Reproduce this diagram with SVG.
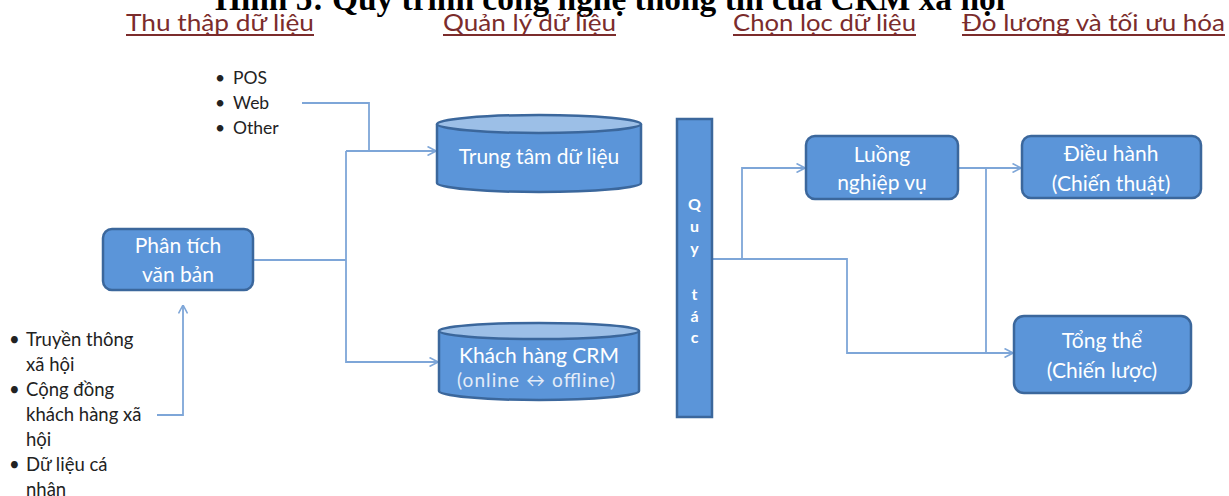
<svg xmlns="http://www.w3.org/2000/svg" width="1229" height="496" viewBox="0 0 1229 496">
  <defs>
    <marker id="arrow" viewBox="0 0 10 10" refX="9.5" refY="5" markerWidth="10" markerHeight="10" markerUnits="userSpaceOnUse" orient="auto">
      <path d="M1,0.5 L9.5,5 L1,9.5" fill="none" stroke="#7ea6d8" stroke-width="1.6"/>
    </marker>
    <style>
      .title { font-family: "Liberation Serif", "Times New Roman", serif; font-weight: bold; font-size: 33px; fill: #000; }
      .head { font-family: Lato, "Liberation Sans", sans-serif; font-size: 24px; fill: #7b2c2c; }
      .uline { stroke: #7b2c2c; stroke-width: 2.2; }
      .list { font-family: Lato, "Liberation Sans", sans-serif; font-size: 17.5px; fill: #222; }
      .list2 { font-family: Lato, "Liberation Sans", sans-serif; font-size: 18.5px; fill: #222; }
      .box { fill: #5b95d9; stroke: #3b679c; stroke-width: 2.5; }
      .cap { fill: #9cbfe7; stroke: #3b679c; stroke-width: 2.5; }
      .label { font-family: Lato, "Liberation Sans", sans-serif; font-size: 21px; fill: #fff; text-anchor: middle; }
      .sub { font-family: Lato, "Liberation Sans", sans-serif; font-size: 19px; fill: #e3ecf8; text-anchor: middle; }
      .rule { font-family: Lato, "Liberation Sans", sans-serif; font-size: 16px; font-weight: bold; fill: #fff; text-anchor: middle; }
      .wire { fill: none; stroke: #7ea6d8; stroke-width: 1.8; }
    </style>
  </defs>

  <rect width="1229" height="496" fill="#fff"/>

  <!-- figure caption, partly above the top edge -->
  <text class="title" x="610" y="10" text-anchor="middle" textLength="790" lengthAdjust="spacingAndGlyphs">Hình 5: Quy trình công nghệ thông tin của CRM xã hội</text>

  <!-- stage headings -->
  <g id="headings">
    <text class="head" x="126" y="31" textLength="188" lengthAdjust="spacingAndGlyphs">Thu thập dữ liệu</text>
    <line class="uline" x1="126" y1="35" x2="314" y2="35"/>
    <text class="head" x="443" y="31" textLength="173" lengthAdjust="spacingAndGlyphs">Quản lý dữ liệu</text>
    <line class="uline" x1="443" y1="35" x2="616" y2="35"/>
    <text class="head" x="733" y="31" textLength="183" lengthAdjust="spacingAndGlyphs">Chọn lọc dữ liệu</text>
    <line class="uline" x1="733" y1="35" x2="916" y2="35"/>
    <text class="head" x="962" y="31" textLength="263" lengthAdjust="spacingAndGlyphs">Đo lương và tối ưu hóa</text>
    <line class="uline" x1="962" y1="35" x2="1225" y2="35"/>
  </g>

  <!-- source lists -->
  <g id="sources-top" class="list">
    <text x="215" y="84">•</text><text x="233" y="84">POS</text>
    <text x="215" y="109">•</text><text x="233" y="109">Web</text>
    <text x="215" y="134">•</text><text x="233" y="134">Other</text>
  </g>
  <g id="sources-social" class="list2">
    <text x="9" y="346">•</text><text x="26" y="346">Truyền thông</text>
    <text x="26" y="371">xã hội</text>
    <text x="9" y="396">•</text><text x="26" y="396">Cộng đồng</text>
    <text x="26" y="421">khách hàng xã</text>
    <text x="26" y="446">hội</text>
    <text x="9" y="471">•</text><text x="26" y="471">Dữ liệu cá</text>
    <text x="26" y="496">nhận</text>
  </g>

  <!-- connectors -->
  <g id="connectors">
    <path class="wire" d="M302,103 H369 V151"/>
    <path class="wire" d="M346,151 H436" marker-end="url(#arrow)"/>
    <path class="wire" d="M253,260 H346"/>
    <path class="wire" d="M346,151 V362 H438" marker-end="url(#arrow)"/>
    <path class="wire" d="M157,415 H183 V305" marker-end="url(#arrow)"/>
    <path class="wire" d="M712,259 H847 V353 H1013" marker-end="url(#arrow)"/>
    <path class="wire" d="M742,259 V168 H805" marker-end="url(#arrow)"/>
    <path class="wire" d="M958,168 H1021" marker-end="url(#arrow)"/>
    <path class="wire" d="M986,168 V353"/>
  </g>

  <!-- nodes -->
  <g id="text-analysis">
    <rect class="box" x="103" y="229" width="150" height="61" rx="9"/>
    <text class="label" x="178" y="253">Phân tích</text>
    <text class="label" x="178" y="282">văn bản</text>
  </g>

  <g id="data-center">
    <path class="box" d="M437,124 V183 A102,9 0 0 0 641,183 V124"/>
    <ellipse class="cap" cx="539" cy="124" rx="102" ry="9"/>
    <text class="label" x="539" y="164">Trung tâm dữ liệu</text>
  </g>

  <g id="crm-customers">
    <path class="box" d="M439,331 V391 A100,9 0 0 0 639,391 V331"/>
    <ellipse class="cap" cx="539" cy="331" rx="100" ry="8"/>
    <text class="label" x="539" y="363">Khách hàng CRM</text>
    <text class="sub" x="536" y="387" textLength="158" lengthAdjust="spacing">(online ↔ offline)</text>
  </g>

  <g id="rules">
    <rect class="box" x="677" y="119" width="35" height="298"/>
    <text class="rule" x="694.5" y="210">Q</text>
    <text class="rule" x="694.5" y="232">u</text>
    <text class="rule" x="694.5" y="254">y</text>
    <text class="rule" x="694.5" y="300">t</text>
    <text class="rule" x="694.5" y="322">á</text>
    <text class="rule" x="694.5" y="343">c</text>
  </g>

  <g id="workflow">
    <rect class="box" x="806" y="136" width="152" height="63" rx="9"/>
    <text class="label" x="882" y="162">Luồng</text>
    <text class="label" x="882" y="190">nghiệp vụ</text>
  </g>

  <g id="operations">
    <rect class="box" x="1022" y="136" width="179" height="62" rx="9"/>
    <text class="label" x="1111" y="161">Điều hành</text>
    <text class="label" x="1111" y="191">(Chiến thuật)</text>
  </g>

  <g id="overall">
    <rect class="box" x="1014" y="316" width="177" height="77" rx="10"/>
    <text class="label" x="1102" y="348">Tổng thể</text>
    <text class="label" x="1102" y="378">(Chiến lược)</text>
  </g>
</svg>
